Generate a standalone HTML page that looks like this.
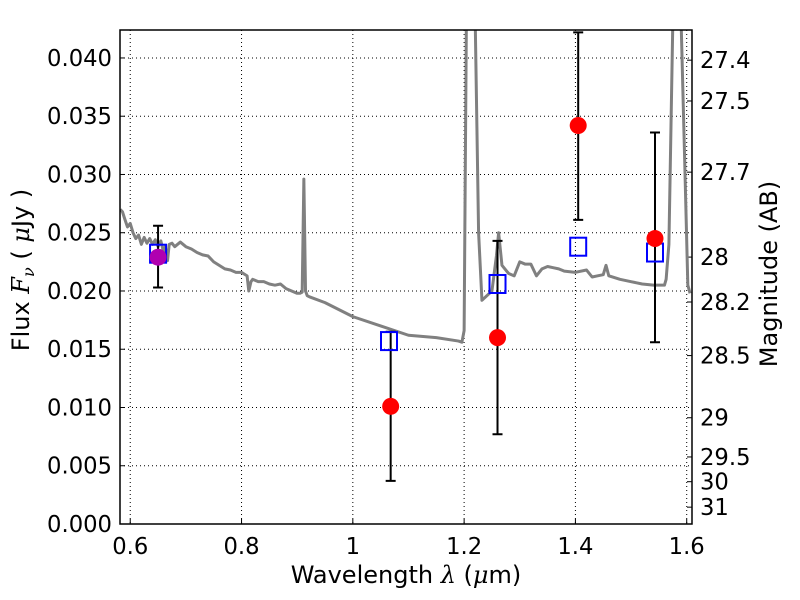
<!DOCTYPE html>
<html><head><meta charset="utf-8"><style>
body{margin:0;background:#fff;}
svg{display:block;font-family:"DejaVu Sans","Liberation Sans",sans-serif;}
</style></head><body>
<svg id="chart" width="800" height="600"></svg>
<script>
const xTicks=[0.6,0.8,1.0,1.2,1.4,1.6];
const xTickLabels=["0.6","0.8","1","1.2","1.4","1.6"];
const yTicks=[0,0.005,0.01,0.015,0.02,0.025,0.03,0.035,0.04];
const yTickLabels=["0.000","0.005","0.010","0.015","0.020","0.025","0.030","0.035","0.040"];
const magTicks=[27.4,27.5,27.7,28,28.2,28.5,29,29.5,30,31];
const magLabels=["27.4","27.5","27.7","28","28.2","28.5","29","29.5","30","31"];
const specWave=[0.582,0.586,0.59,0.595,0.6,0.605,0.61,0.615,0.62,0.625,0.63,0.635,0.64,0.645,0.65,0.655,0.66,0.663,0.667,0.67,0.675,0.68,0.69,0.70,0.71,0.72,0.73,0.74,0.75,0.76,0.77,0.78,0.79,0.80,0.81,0.813,0.817,0.82,0.83,0.84,0.85,0.86,0.87,0.88,0.89,0.90,0.905,0.909,0.912,0.915,0.918,0.922,0.95,1.0,1.05,1.1,1.15,1.19,1.196,1.2,1.204,1.22,1.226,1.232,1.25,1.258,1.262,1.268,1.28,1.29,1.30,1.31,1.32,1.33,1.34,1.35,1.36,1.37,1.38,1.40,1.42,1.43,1.44,1.45,1.455,1.46,1.48,1.5,1.52,1.54,1.56,1.563,1.568,1.575,1.59,1.597,1.602,1.606];
const specFlux=[0.0270,0.0268,0.0262,0.0255,0.0258,0.0250,0.0245,0.0248,0.0240,0.0246,0.0241,0.0245,0.0240,0.0244,0.0238,0.0243,0.0233,0.0238,0.0226,0.0240,0.0241,0.0238,0.0242,0.0238,0.0236,0.0233,0.0231,0.0230,0.0225,0.0222,0.0219,0.0218,0.0216,0.0216,0.0213,0.0200,0.0208,0.0210,0.0208,0.0208,0.0206,0.0205,0.0206,0.0202,0.0200,0.0198,0.0198,0.0199,0.0296,0.0200,0.0196,0.0195,0.0190,0.0178,0.0170,0.0162,0.0160,0.0157,0.0156,0.0166,0.0430,0.0430,0.0250,0.0192,0.0200,0.0230,0.0250,0.0222,0.0215,0.0213,0.0225,0.0223,0.0223,0.0213,0.0219,0.0221,0.0220,0.0219,0.0217,0.0216,0.0218,0.0212,0.0213,0.0214,0.0222,0.0213,0.0210,0.0208,0.0206,0.0205,0.0205,0.0210,0.0240,0.0430,0.0430,0.0300,0.0205,0.0198];
const obsWave=[0.650,1.068,1.260,1.405,1.543];
const obsFlux=[0.0229,0.0101,0.0160,0.0342,0.0245];
const obsLow=[0.0203,0.0037,0.0077,0.0261,0.0156];
const obsHigh=[0.0256,0.0165,0.0243,0.0422,0.0336];
const modWave=[0.650,1.065,1.260,1.405,1.543];
const modFlux=[0.0232,0.0157,0.0206,0.0238,0.0233];

const L=120,R=692,T=30,B=524;
const xMin=0.5816,xMax=1.6095,yMin=0,yMax=0.0424;
const X=v=>L+(v-xMin)/(xMax-xMin)*(R-L);
const Y=v=>B-(v-yMin)/(yMax-yMin)*(B-T);
const NS="http://www.w3.org/2000/svg";
const svg=document.getElementById('chart');
function mk(tag,attrs,parent){const e=document.createElementNS(NS,tag);for(const k in attrs)e.setAttribute(k,attrs[k]);(parent||svg).appendChild(e);return e;}

const defs=mk('defs',{});const cp=mk('clipPath',{id:'clip'},defs);mk('rect',{x:L,y:T,width:R-L,height:B-T},cp);
const FS=22.7;
xTicks.forEach((t,i)=>{
 const g=mk('line',{x1:X(t),x2:X(t),y1:T,y2:B,stroke:'#000','stroke-width':1,'stroke-dasharray':'1,3'});
 
 
 mk('line',{x1:X(t),x2:X(t),y1:B,y2:B-5,stroke:'#000'});
 const tx=mk('text',{x:X(t),y:B+30,'text-anchor':'middle','font-size':FS});
 tx.textContent=xTickLabels[i];
 
 
});
yTicks.forEach((t,i)=>{
 const g=mk('line',{x1:L,x2:R,y1:Y(t),y2:Y(t),stroke:'#000','stroke-width':1,'stroke-dasharray':'1,3'});
 
 
 mk('line',{x1:L,x2:L+5,y1:Y(t),y2:Y(t),stroke:'#000'});
 const tx=mk('text',{x:L-8,y:Y(t)+8,'text-anchor':'end','font-size':FS});
 tx.textContent=yTickLabels[i];
 
 
});
magTicks.forEach((m,i)=>{
 const f=Math.pow(10,(23.9-m)/2.5);
 mk('line',{x1:R,x2:R-5,y1:Y(f),y2:Y(f),stroke:'#000'});
 const tx=mk('text',{x:R+8,y:Y(f)+8,'font-size':FS});
 tx.textContent=magLabels[i];
 
 
});

const sp=mk('polyline',{points:specWave.map((w,i)=>X(w)+','+Y(specFlux[i])).join(' '),fill:'none',stroke:'#808080','stroke-width':3,'stroke-linejoin':'round','clip-path':'url(#clip)'});



obsWave.forEach((w,i)=>{
 const x=X(w);
 const e=mk('path',{d:`M${x},${Y(obsLow[i])}V${Y(obsHigh[i])}M${x-5},${Y(obsLow[i])}h10M${x-5},${Y(obsHigh[i])}h10`,stroke:'#000','stroke-width':2,fill:'none','clip-path':'url(#clip)'});
 
 
});
modWave.forEach((w,i)=>{
 const s=mk('rect',{x:X(w)-8,y:Y(modFlux[i])-9,width:16,height:18,fill:'none',stroke:'#0000ff','stroke-width':2});
 
 
});
obsWave.forEach((w,i)=>{
 const c=mk('circle',{cx:X(w),cy:Y(obsFlux[i]),r:8.5,fill:i===0?'#b000b0':'#ff0000'});
 
 
});

const fr=mk('rect',{x:L,y:T,width:R-L,height:B-T,fill:'none',stroke:'#000','stroke-width':1.5});



const xl=mk('text',{x:406,y:583,'text-anchor':'middle','font-size':24,'xml:space':'preserve'});
xl.innerHTML='Wavelength  <tspan font-style="italic" font-family="DejaVu Serif,serif">λ</tspan> (<tspan font-style="italic" font-family="DejaVu Serif,serif">μ</tspan>m)';


const yl=mk('text',{x:0,y:0,'text-anchor':'middle','font-size':24,transform:'translate(29,270) rotate(-90)','xml:space':'preserve'});
yl.innerHTML='Flux  <tspan font-style="italic" font-family="DejaVu Serif,serif">F</tspan><tspan font-size="16" dy="5" font-style="italic" font-family="DejaVu Serif,serif">ν</tspan><tspan dy="-5">   (  </tspan><tspan font-style="italic" font-family="DejaVu Serif,serif">μ</tspan>Jy )';


const rl=mk('text',{x:0,y:0,'text-anchor':'middle','font-size':24,transform:'translate(777,274) rotate(-90)'});
rl.textContent='Magnitude (AB)';


</script>
</body></html>
